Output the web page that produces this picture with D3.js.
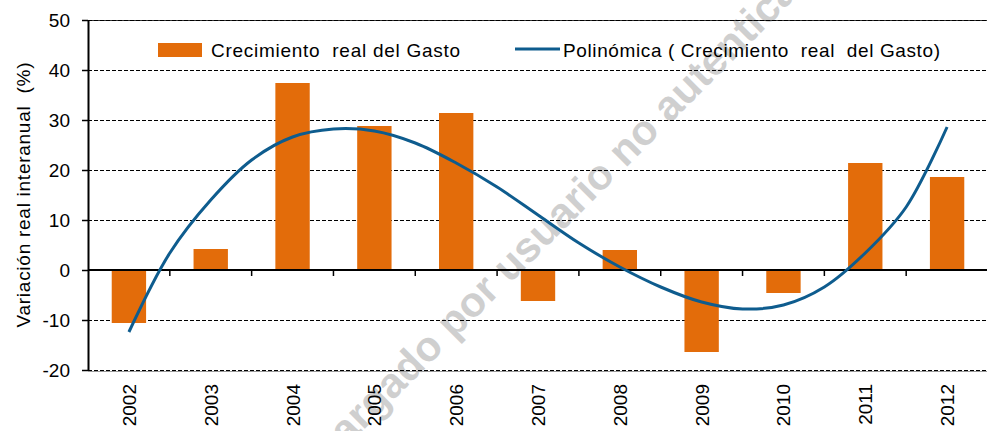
<!DOCTYPE html>
<html>
<head>
<meta charset="utf-8">
<script src="https://cdn.jsdelivr.net/npm/d3@7"></script>
<style>
  body { margin: 0; background: #fff; }
  svg { font-family: "Liberation Sans", Arial, sans-serif; }
</style>
</head>
<body>
<svg width="987" height="431"></svg>
<script>
// data
var years = ["2002","2003","2004","2005","2006","2007","2008","2009","2010","2011","2012"];
var gasto = [-10.6, 4.2, 37.4, 28.8, 31.4, -6.2, 4.0, -16.4, -4.6, 21.4, 18.6];
// trend line (polynomial) sampled every half year
var trendX = [2002, 2002.5, 2003, 2003.5, 2004, 2004.5, 2005, 2005.5, 2006, 2006.5, 2007,
              2007.5, 2008, 2008.5, 2009, 2009.5, 2010, 2010.5, 2011, 2011.5, 2012];
var trendY = [-12.4, 3.4, 14, 22, 26.6, 28.2, 27.8, 25.4, 21.4, 16.6, 11,
              5.4, 0.6, -3.4, -6.4, -7.8, -7.0, -3.4, 3.4, 12.6, 28.6];
var yTicks = [-20, -10, 0, 10, 20, 30, 40, 50];

var svg = d3.select("svg"),
    width = +svg.attr("width"),
    height = +svg.attr("height");

var mLeft = 88, mRight = 988, mTop = 20, mBottom = 370;

var x = d3.scaleBand().domain(years).range([mLeft, mRight]).paddingInner(0.58).paddingOuter(0.29);
var band = (mRight - mLeft) / years.length;
var y = d3.scaleLinear().domain([-20, 50]).range([mBottom, mTop]);
var xt = d3.scaleLinear().domain([2002, 2012])
    .range([x("2002") + x.bandwidth() / 2, x("2012") + x.bandwidth() / 2]);

var orange = "#E36C0A", blue = "#0E5C8E";

// watermark
svg.append("text")
    .attr("transform", "translate(548,230) rotate(-45)")
    .attr("text-anchor", "middle")
    .attr("dominant-baseline", "middle")
    .style("font-size", "42px")
    .style("font-weight", "bold")
    .style("fill", "#cfcfcf")
    .text("Descargado por usuario no autenticado");

// grid lines
var grid = svg.append("g").attr("shape-rendering", "crispEdges");
grid.append("line")   // top border, drawn darker
    .attr("x1", mLeft).attr("x2", width)
    .attr("y1", y(50)).attr("y2", y(50))
    .attr("stroke", "#333").attr("stroke-width", 1);
grid.append("line")   // bottom border, grey under the dashes
    .attr("x1", mLeft).attr("x2", width)
    .attr("y1", y(-20) + 1).attr("y2", y(-20) + 1)
    .attr("stroke", "#999").attr("stroke-width", 1);
grid.selectAll("line.g")
    .data(yTicks.filter(function(d) { return d != 0; }))
    .enter().append("line")
    .attr("class", "g")
    .attr("x1", mLeft).attr("x2", width)
    .attr("y1", function(d) { return y(d); })
    .attr("y2", function(d) { return y(d); })
    .attr("stroke", "#000")
    .attr("stroke-width", 1)
    .attr("stroke-dasharray", "4,2");

// bars
svg.append("g").selectAll("rect")
    .data(gasto)
    .enter().append("rect")
    .attr("x", function(d, i) { return x(years[i]); })
    .attr("width", x.bandwidth())
    .attr("y", function(d) { return y(Math.max(0, d)); })
    .attr("height", function(d) { return Math.abs(y(d) - y(0)); })
    .attr("fill", orange);

// zero line + ticks
svg.append("line")
    .attr("x1", mLeft).attr("x2", width)
    .attr("y1", y(0)).attr("y2", y(0))
    .attr("stroke", "#000").attr("stroke-width", 2);
svg.append("g").selectAll("line")
    .data(d3.range(1, years.length))
    .enter().append("line")
    .attr("x1", function(i) { return mLeft + i * band; })
    .attr("x2", function(i) { return mLeft + i * band; })
    .attr("y1", y(0)).attr("y2", y(0) + 6)
    .attr("stroke", "#000").attr("stroke-width", 1.5);

// y axis
var yAxis = svg.append("g")
    .attr("transform", "translate(" + mLeft + ",0)")
    .call(d3.axisLeft(y).tickValues(yTicks).tickSize(6).tickSizeOuter(0)
        .tickFormat(function(d) { return String(d); }));
yAxis.select(".domain").attr("stroke-width", 2);
yAxis.selectAll(".tick line").attr("stroke-width", 1.5);
yAxis.selectAll("text")
    .style("font-size", "19px")
    .style("font-family", "Liberation Sans, Arial, sans-serif")
    .attr("fill", "#000").attr("x", -18);

// x labels
svg.append("g").selectAll("text")
    .data(years)
    .enter().append("text")
    .attr("transform", function(d) {
        return "translate(" + (x(d) + x.bandwidth() / 2 + 7) + "," + (mBottom + 14) + ") rotate(-90)";
    })
    .attr("text-anchor", "end")
    .style("font-size", "19px")
    .text(function(d) { return d; });

// trend line
var line = d3.line()
    .x(function(d, i) { return xt(trendX[i]); })
    .y(function(d) { return y(d); })
    .curve(d3.curveCatmullRom);
svg.append("path")
    .datum(trendY)
    .attr("d", line)
    .attr("fill", "none")
    .attr("stroke", blue)
    .attr("stroke-width", 3);

// y title
svg.append("text")
    .attr("transform", "translate(30,195) rotate(-90)")
    .attr("text-anchor", "middle")
    .attr("textLength", 265)
    .style("font-size", "19px")
    .style("white-space", "pre")
    .text("Variación real interanual  (%)");

// legend
var lg = svg.append("g");
lg.append("rect").attr("x", 158).attr("y", 43).attr("width", 44).attr("height", 14).attr("fill", orange);
lg.append("text").attr("x", 211).attr("y", 57).style("font-size", "19px")
    .attr("textLength", 249)
    .style("white-space", "pre").text("Crecimiento  real del Gasto");
lg.append("line").attr("x1", 515).attr("x2", 560).attr("y1", 49).attr("y2", 49)
    .attr("stroke", blue).attr("stroke-width", 3);
lg.append("text").attr("x", 563).attr("y", 57).style("font-size", "19px")
    .attr("textLength", 377)
    .style("white-space", "pre").text("Polinómica ( Crecimiento  real  del Gasto)");
</script>
</body>
</html>
